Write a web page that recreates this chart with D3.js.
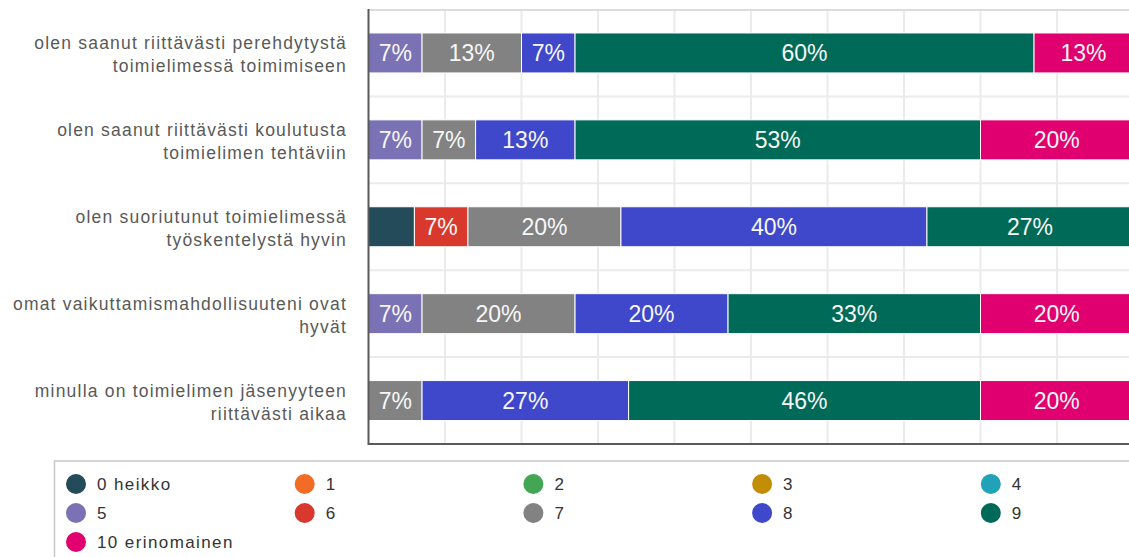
<!DOCTYPE html>
<html lang="fi">
<head>
<meta charset="UTF-8">
<script src="https://d3js.org/d3.v7.min.js"></script>
<style>
    body { margin: 0; background: #fff; }
    svg { display: block; font-family: "Liberation Sans", Arial, sans-serif; }
</style>
<title>Toimielin</title>
</head>
<body>
<div class="canvas"></div>
<script>
// questions (line breaks as in the chart)
const categories = [
    'olen saanut riittävästi perehdytystä\ntoimielimessä toimimiseen',
    'olen saanut riittävästi koulutusta\ntoimielimen tehtäviin',
    'olen suoriutunut toimielimessä\ntyöskentelystä hyvin',
    'omat vaikuttamismahdollisuuteni ovat\nhyvät',
    'minulla on toimielimen jäsenyyteen\nriittävästi aikaa'
]
const keys = ['0 heikko', '1', '2', '3', '4', '5', '6', '7', '8', '9', '10 erinomainen']
const colors = ['#234b5a', '#f26c25', '#43a655', '#c28c05', '#22a2b8', '#7a72b5',
    '#d9382d', '#828282', '#3f47cb', '#006a58', '#e0006f']

// percent per rating, one value per question
const v0 = [0, 0, 6, 0, 0]
const v1 = [0, 0, 0, 0, 0]
const v2 = [0, 0, 0, 0, 0]
const v3 = [0, 0, 0, 0, 0]
const v4 = [0, 0, 0, 0, 0]
const v5 = [7, 7, 0, 7, 0]
const v6 = [0, 0, 7, 0, 0]
const v7 = [13, 7, 20, 20, 7]
const v8 = [7, 13, 40, 20, 27]
const v9 = [60, 53, 27, 33, 46]
const v10 = [13, 20, 0, 20, 20]
const series = [v0, v1, v2, v3, v4, v5, v6, v7, v8, v9, v10]
const xTicks = [0, 10, 20, 30, 40, 50, 60, 70, 80, 90, 100]

const W = 1129, H = 557
const svg = d3.select('.canvas').append('svg')
    .attr('width', W).attr('height', H)

const rows = categories.map((c, i) => {
    const r = { cat: c }
    keys.forEach((k, j) => r[k] = series[j][i])
    return r
})

const x = d3.scaleLinear().domain([0, 100]).range([368.5, 1133.5])
const y = d3.scaleBand().domain(categories)
    .range([9.5, 444])
    .paddingInner(0.54)
    .paddingOuter(0.27)

const stacked = d3.stack().keys(keys)(rows)

// grid
const grid = svg.append('g')
grid.selectAll('line.v').data(xTicks.slice(1)).enter().append('line')
    .attr('class', 'v')
    .attr('x1', d => x(d)).attr('x2', d => x(d))
    .attr('y1', 9.5).attr('y2', 444)
    .attr('stroke', '#ebebeb').attr('stroke-width', 2)
const step = y.step()
grid.selectAll('line.h').data(d3.range(1, categories.length)).enter().append('line')
    .attr('class', 'h')
    .attr('x1', x(0)).attr('x2', W)
    .attr('y1', d => 9.5 + d * step).attr('y2', d => 9.5 + d * step)
    .attr('stroke', '#ebebeb').attr('stroke-width', 2)
grid.append('line')
    .attr('x1', x(0)).attr('x2', W).attr('y1', 10).attr('y2', 10)
    .attr('stroke', '#dcdcdc').attr('stroke-width', 2)

// bars
const layers = svg.append('g').selectAll('g').data(stacked).enter().append('g')
    .attr('fill', (d, i) => colors[i])

layers.selectAll('rect').data(d => d.filter(s => s[1] - s[0] > 0)).enter().append('rect')
    .attr('x', d => x(d[0]))
    .attr('y', d => y(d.data.cat))
    .attr('width', d => x(d[1]) - x(d[0]))
    .attr('height', y.bandwidth())
    .attr('stroke', '#fff').attr('stroke-width', 1)

layers.selectAll('text').data(d => d.filter(s => s[1] - s[0] >= 7)).enter().append('text')
    .attr('x', d => (x(d[0]) + Math.min(x(d[1]), W + 4)) / 2)
    .attr('y', d => y(d.data.cat) + y.bandwidth() / 2)
    .attr('dy', '0.36em')
    .attr('text-anchor', 'middle')
    .attr('fill', '#f7f7f7')
    .style('font-size', '23px')
    .text(d => (d[1] - d[0]) + '%')

// axes lines
svg.append('line')
    .attr('x1', x(0)).attr('x2', x(0)).attr('y1', 9).attr('y2', 445)
    .attr('stroke', '#5a5a5a').attr('stroke-width', 2)
svg.append('line')
    .attr('x1', x(0)).attr('x2', W).attr('y1', 444).attr('y2', 444)
    .attr('stroke', '#5a5a5a').attr('stroke-width', 2)

// category labels
const yAxisG = svg.append('g')
yAxisG.selectAll('text').data(categories).enter().append('text')
    .attr('text-anchor', 'end')
    .attr('fill', '#595959')
    .style('font-size', '17.5px')
    .style('letter-spacing', '1.2px')
    .each(function (d) {
        const lines = d.split('\n')
        const cy = y(d) + y.bandwidth() / 2
        d3.select(this).selectAll('tspan').data(lines).enter().append('tspan')
            .attr('x', 347)
            .attr('y', (l, i) => cy - 4 + i * 23)
            .text(l => l)
    })

// legend
const legend = svg.append('g')
legend.append('rect')
    .attr('x', 54.5).attr('y', 461).attr('width', 1200).attr('height', 200)
    .attr('fill', 'none').attr('stroke', '#c8c8c8').attr('stroke-width', 1.5)
const items = legend.selectAll('g.item').data(keys).enter().append('g')
    .attr('class', 'item')
    .attr('transform', (d, i) => `translate(${76 + (i % 5) * 228.7},${484 + Math.floor(i / 5) * 29})`)
items.append('circle').attr('r', 10).attr('fill', (d, i) => colors[i])
items.append('text')
    .attr('x', 21).attr('dy', '0.38em')
    .attr('fill', '#333')
    .style('font-size', '17px')
    .style('letter-spacing', '1.4px')
    .text(d => d)
</script>
</body>
</html>
